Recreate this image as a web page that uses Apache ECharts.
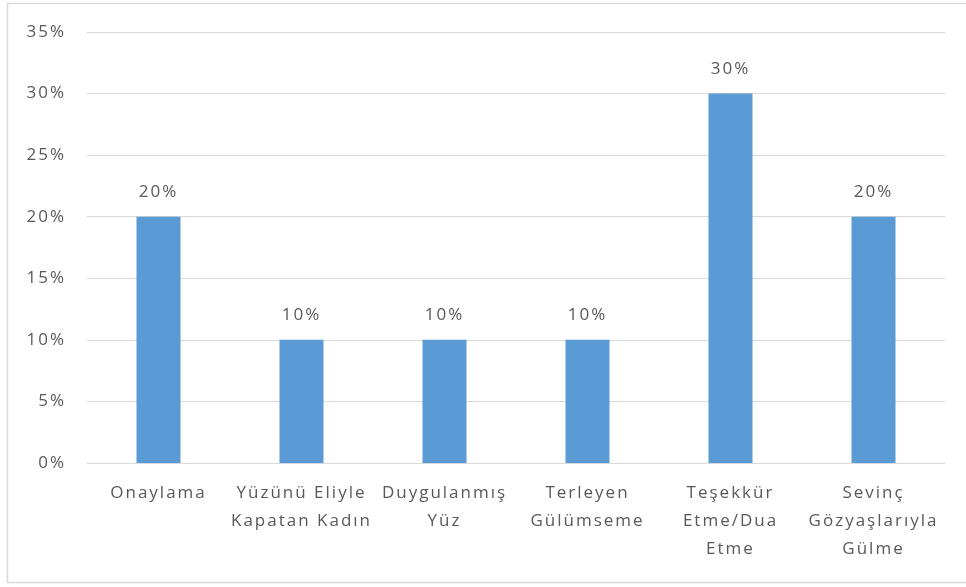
<!DOCTYPE html>
<html>
<head>
<meta charset="utf-8">
<script src="https://cdn.jsdelivr.net/npm/echarts@6/dist/echarts.min.js"></script>
<style>
  html, body { margin: 0; padding: 0; background: #ffffff; }
  #chart { width: 966px; height: 587px; }
</style>
</head>
<body>
<div id="chart"></div>
<script>
// Category names (line breaks where the axis label wraps)
const categories = [
  'Onaylama',
  'Yüzünü Eliyle\nKapatan Kadın',
  'Duygulanmış\nYüz',
  'Terleyen\nGülümseme',
  'Teşekkür\nEtme/Dua\nEtme',
  'Sevinç\nGözyaşlarıyla\nGülme'
];
// Share of responses, in percent
const values = [20, 10, 10, 10, 30, 20];
// Value-axis range
const yMin = 0;
const yMax = 35;
const yStep = 5;

const textColor = '#595959';
const fontFamily = 'Open Sans, Noto Sans, sans-serif';

// Slightly loose lettering for every canvas text run (applied to drawing and measuring alike)
const LETTER_SPACING = '2px';
(function () {
  const proto = CanvasRenderingContext2D.prototype;
  const fill = proto.fillText, stroke = proto.strokeText, measure = proto.measureText;
  proto.fillText = function () { this.letterSpacing = LETTER_SPACING; return fill.apply(this, arguments); };
  proto.strokeText = function () { this.letterSpacing = LETTER_SPACING; return stroke.apply(this, arguments); };
  proto.measureText = function () { this.letterSpacing = LETTER_SPACING; return measure.apply(this, arguments); };
})();

const chart = echarts.init(document.getElementById('chart'), null, { renderer: 'canvas' });
chart.setOption({
  animation: false,
  backgroundColor: '#ffffff',
  graphic: [{
    type: 'rect',
    shape: { x: 7.5, y: 3.5, width: 970, height: 579 },
    style: { fill: 'none', stroke: '#d9d9d9', lineWidth: 1.5 },
    silent: true
  }],
  grid: { left: 87, right: 21, top: 32, bottom: 124, containLabel: false },
  xAxis: {
    type: 'category',
    data: categories,
    axisLine: { show: true, lineStyle: { color: '#d9d9d9', width: 1 } },
    axisTick: { show: false },
    axisLabel: {
      interval: 0,
      color: textColor,
      fontFamily: fontFamily,
      fontSize: 17,
      lineHeight: 28,
      margin: 16,
      overflow: 'none'
    }
  },
  yAxis: {
    type: 'value',
    min: yMin,
    max: yMax,
    interval: yStep,
    axisLine: { show: false },
    axisTick: { show: false },
    splitLine: { lineStyle: { color: '#d9d9d9', width: 1 } },
    axisLabel: {
      color: textColor,
      fontFamily: fontFamily,
      fontSize: 17,
      margin: 21,
      formatter: v => v + '%'
    }
  },
  series: [{
    type: 'bar',
    data: values,
    barWidth: 44,
    itemStyle: { color: '#5b9bd5' },
    label: {
      show: true,
      position: 'top',
      distance: 15,
      color: textColor,
      fontFamily: fontFamily,
      fontSize: 17,
      formatter: p => p.value + '%'
    }
  }]
});
</script>
</body>
</html>
